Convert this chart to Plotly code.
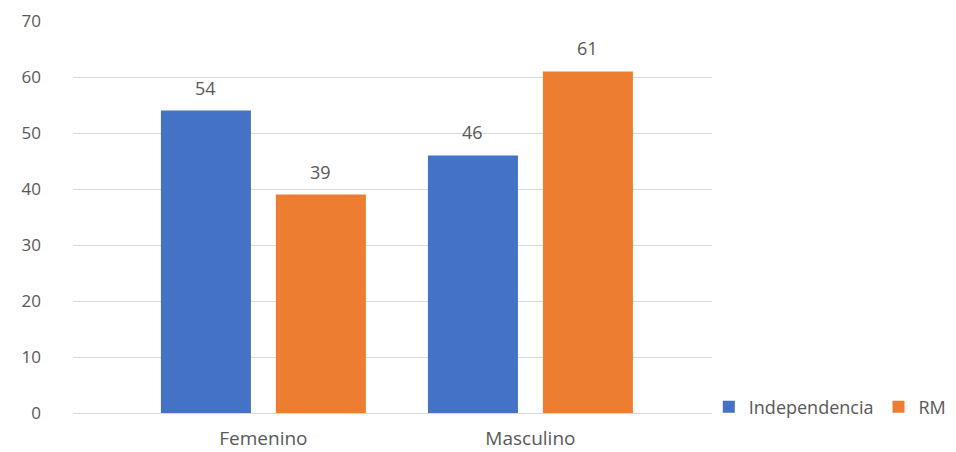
import plotly.graph_objects as go

categories = ["Femenino", "Masculino"]
series_names = ["Independencia", "RM"]
independencia = [54, 46]
rm = [39, 61]
y_ticks = [0, 10, 20, 30, 40, 50, 60, 70]

colors = ["#4472C4", "#ED7D31"]
font_family = "'Open Sans', Lato, sans-serif"

fig = go.Figure()
for name, vals, col in zip(series_names, [independencia, rm], colors):
    fig.add_trace(go.Bar(x=categories, y=vals, name=name, marker_color=col,
                         marker_line_width=0))

offsets = [-57.5, 57.5]
for s, vals in enumerate([independencia, rm]):
    for c, v in zip(categories, vals):
        fig.add_annotation(x=c, y=v, text=str(v), showarrow=False,
                           xshift=offsets[s], yshift=9, yanchor="bottom",
                           font=dict(size=18, color="#595959", family=font_family))

fig.update_layout(
    width=948, height=444,
    margin=dict(l=65, r=244, t=13, b=39, autoexpand=False),
    paper_bgcolor="white", plot_bgcolor="white",
    barmode="group", bargap=0.139, bargroupgap=0.217,
    font=dict(family=font_family, color="#595959", size=17),
    showlegend=True,
    legend=dict(orientation="h", x=0.995, xanchor="left", y=0.015, yanchor="middle",
                font=dict(size=18, color="#595959"),
                traceorder="normal", bgcolor="rgba(0,0,0,0)"),
)
fig.update_xaxes(range=[-0.713, 1.68], showgrid=False, showline=False,
                 ticks="", ticklabelstandoff=12, tickfont=dict(size=19, color="#595959"))
fig.update_yaxes(range=[0, 70], tickvals=y_ticks, showgrid=True, gridcolor="#D9D9D9",
                 gridwidth=1, zeroline=True, zerolinecolor="#D9D9D9", zerolinewidth=1,
                 showline=False, ticks="", ticklabelstandoff=31, ticklabeloverflow="allow",
                 tickfont=dict(size=17, color="#595959"))

fig.write_html("out.html")
